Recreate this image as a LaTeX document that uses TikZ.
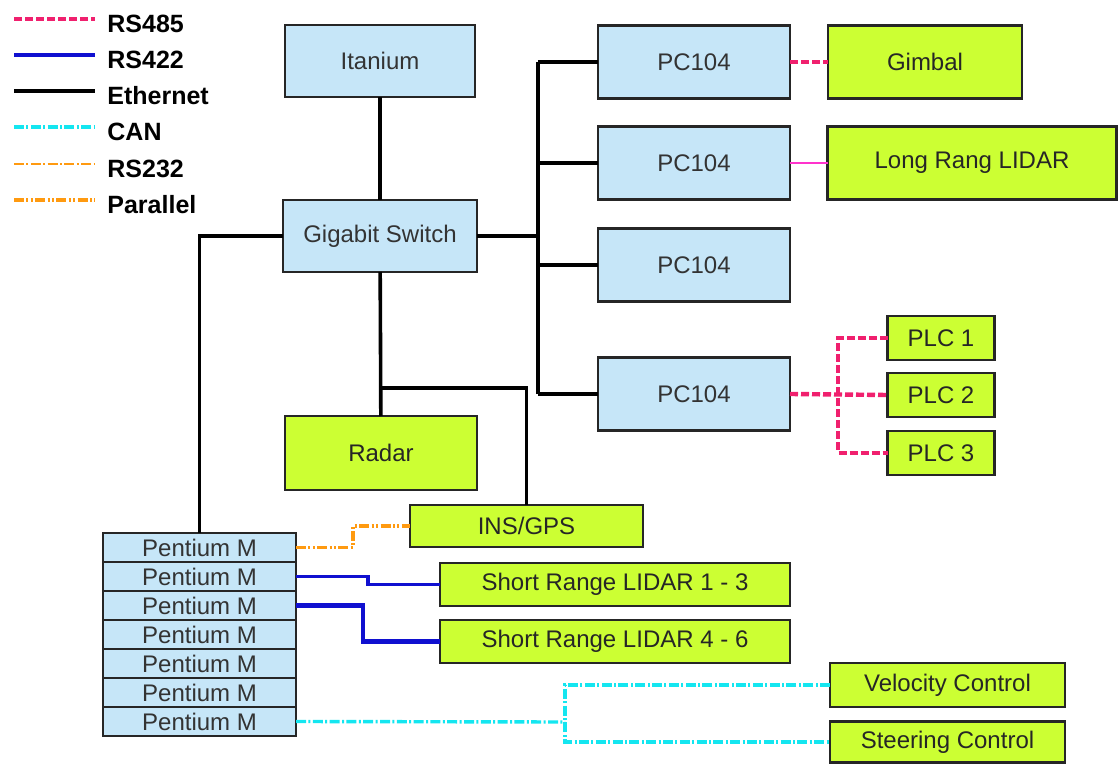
\documentclass[tikz,border=0pt]{standalone}
\usepackage{fontspec}
\setmainfont{Liberation Sans}
\definecolor{cpublue}{HTML}{C6E6F8}
\definecolor{devlime}{HTML}{CCFF33}
\definecolor{edge}{HTML}{262626}
\definecolor{rspink}{HTML}{F0206E}
\definecolor{rsblue}{HTML}{1010D0}
\definecolor{cancyan}{HTML}{14E6F0}
\definecolor{serorange}{HTML}{FF9A10}
\definecolor{lidarmag}{HTML}{FF33CC}
\begin{document}
\begin{tikzpicture}[x=0.5pt,y=-0.5pt,
  cpu/.style={draw=edge, line width=1.3pt, fill=cpublue, text=black!80,
    font=\fontsize{12}{14}\selectfont, inner sep=0pt, outer sep=0pt},
  dev/.style={draw=edge, line width=1.4pt, fill=devlime, text=black!85,
    font=\fontsize{12}{14}\selectfont, inner sep=0pt, outer sep=0pt},
  eth/.style={black, line width=1.8pt},
  rsfour/.style={rspink, line width=2.2pt, dash pattern=on 4pt off 1.5pt},
  rsfourtwo/.style={rsblue, line width=1.7pt},
  canbus/.style={cancyan, line width=1.7pt, dash pattern=on 5pt off 1.2pt on 1pt off 1.2pt},
  rsserial/.style={serorange, line width=1pt, dash pattern=on 5pt off 1.2pt on 1pt off 1.2pt},
  para/.style={serorange, line width=1.9pt, dash pattern=on 5pt off 1.2pt on 1pt off 1.2pt on 1pt off 1.2pt},
  lgtext/.style={font=\bfseries\fontsize{12.5}{14}\selectfont, anchor=west, inner sep=0pt}]
  \useasboundingbox (0,0) rectangle (1119,764);

  \foreach \st/\lab/\y [count=\k] in {rsfour/RS485/19, rsfourtwo/RS422/55, eth/Ethernet/91,
      canbus/CAN/127, rsserial/RS232/164, para/Parallel/200} {
    \draw[\st] (14,\y) -- (95,\y);
    \node[lgtext] (lg\k) at (107,\y+5) {\lab};
  }

  \node[cpu, minimum width=95pt, minimum height=36pt] (itan) at (380,61) {Itanium};
  \node[cpu, minimum width=97pt, minimum height=36pt] (gsw) at (380,236) {Gigabit Switch};
  \node[dev, minimum width=96pt, minimum height=37pt] (radar) at (381,453) {Radar};

  \foreach \y [count=\i] in {62,163,265,394} {
    \node[cpu, minimum width=96pt, minimum height=36.5pt] (pc\i) at (694,\y) {PC104};
  }
  \node[dev, minimum width=97pt, minimum height=36.5pt] (gimbal) at (925,62) {Gimbal};
  \node[dev, minimum width=144.5pt, minimum height=36.5pt] (llidar) at (972,163) {Long Rang LIDAR};
  \foreach \y [count=\i] in {338,395,453} {
    \node[dev, minimum width=53.5pt, minimum height=22pt] (plc\i) at (941,\y) {PLC \i};
  }

  \foreach \i in {1,...,7} {
    \node[cpu, minimum width=96.5pt, minimum height=14.5pt] (pm\i) at (199.5,533+29*\i-14.5) {Pentium M};
  }
  \node[dev, minimum width=116.5pt, minimum height=21pt] (ins) at (526.5,526) {INS/GPS};
  \node[dev, minimum width=175pt, minimum height=21.5pt] (srl1) at (615,584.5) {Short Range LIDAR 1 - 3};
  \node[dev, minimum width=175pt, minimum height=21.5pt] (srl2) at (615,641.5) {Short Range LIDAR 4 - 6};
  \node[dev, minimum width=117.5pt, minimum height=22pt] (velo) at (947.5,685) {Velocity Control};
  \node[dev, minimum width=117.5pt, minimum height=20.5pt] (steer) at (947.5,742) {Steering Control};

  \coordinate (busT) at (538,62);
  \coordinate (busB) at (538,394);
  \coordinate (rj) at (380,388);
  \coordinate (plcbus) at (838,395);
  \coordinate (canj) at (565,722);

  \draw[eth] (itan) -- (gsw);
  \draw[eth] (gsw) -- (radar);
  \draw[eth] (gsw.west) -| (pm1.north);
  \draw[eth] (gsw.east) -- (gsw.east -| busT);
  \draw[eth] (busT) -- (busB);
  \foreach \i in {1,...,4} {
    \draw[eth] (busT |- pc\i.west) -- (pc\i.west);
  }
  \draw[eth] (rj) -| (ins.north);

  \draw[rsfour] (pc1.east) -- (gimbal.west);
  \draw[lidarmag, line width=1pt] (pc2.east) -- (llidar.west);
  \draw[rsfour] (pc4.east) -- (plc2.west);
  \draw[rsfour] (plc1.west) -| (plcbus) |- (plc3.west);

  \draw[para] (pm1.east) -- ++(57,0) |- (ins.west);
  \draw[rsfourtwo] (pm2.east) -- ++(72,0) |- (srl1.west);
  \draw[rsfourtwo, line width=2.2pt] (pm3.east) -- ++(67,0) |- (srl2.west);
  \draw[canbus] (pm7.east) -- (canj);
  \draw[canbus] (velo.west) -| (canj) |- (steer.west);
\end{tikzpicture}
\end{document}
